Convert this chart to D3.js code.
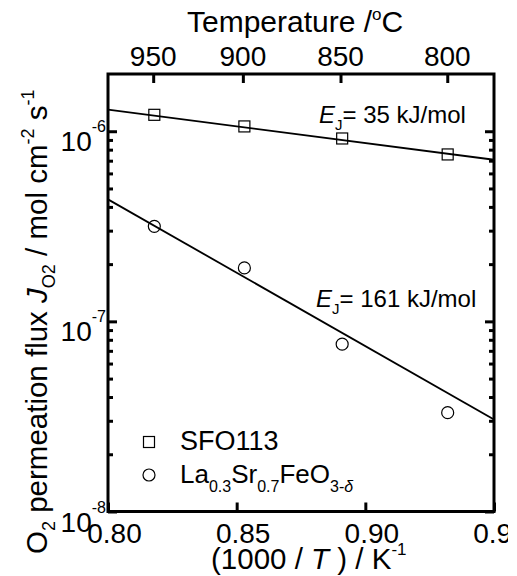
<!DOCTYPE html>
<html>
<head>
<meta charset="utf-8">
<title>O2 permeation flux</title>
<script src="https://d3js.org/d3.v7.min.js"></script>
<style>
body { margin: 0; background: #fff; }
svg { display: block; }
text { font-family: "Liberation Sans", Arial, sans-serif; fill: #000; }
</style>
</head>
<body>
<div id="chart"></div>
<script>
// measured points, x = 1000/T (K^-1), y = J_O2 (mol cm^-2 s^-1)
var invT = [0.818, 0.853, 0.891, 0.932];
var sfoFlux = [1.22e-6, 1.06e-6, 0.916e-6, 0.755e-6];
var lsfFlux = [3.16e-7, 1.91e-7, 7.59e-8, 3.31e-8];

// Arrhenius fit lines (end points)
var fitX = [0.80, 0.95];
var sfoFit = [1.30e-6, 7.08e-7];
var lsfFit = [4.38e-7, 3.05e-8];

// axis ticks
var xTicks = [0.80, 0.85, 0.90, 0.95];
var xTickLabels = ["0.80", "0.85", "0.90", "0.95"];
var tempTicks = [950, 900, 850, 800];
var yMajor = [1e-8, 1e-7, 1e-6];
var yMajorExp = ["-8", "-7", "-6"];

var width = 517, height = 576;
// plot box (window.top is reserved, so prefixed names)
var plotL = 108, plotR = 494, plotT = 74, plotB = 511.5;

var svg = d3.select("#chart").append("svg")
  .attr("width", width)
  .attr("height", height);

svg.append("clipPath").attr("id", "pageclip")
  .append("rect").attr("x", 0).attr("y", 0).attr("width", 508).attr("height", height);

var g = svg.append("g").attr("clip-path", "url(#pageclip)");

var x = d3.scaleLinear().domain([0.80, 0.95]).range([plotL, plotR]);
var y = d3.scaleLog().domain([1e-8, 2e-6]).range([plotB, plotT]);

// minor ticks 2..9 per decade
var yMinor = [];
[-8, -7, -6].forEach(function(e) {
  for (var k = 2; k <= 9; k++) {
    var v = k * Math.pow(10, e);
    if (v < 2e-6) yMinor.push(v);
  }
});

function styleAxis(sel) {
  sel.select(".domain").remove();
  sel.selectAll(".tick line").attr("stroke", "#000").attr("stroke-width", 3);
  sel.selectAll(".tick text").remove();
}

// left / right axes (ticks point inward)
g.append("g").attr("transform", "translate(" + plotL + ",0)")
  .call(d3.axisLeft(y).tickValues(yMajor).tickSize(-9).tickFormat(""))
  .call(styleAxis);
g.append("g").attr("transform", "translate(" + plotL + ",0)")
  .call(d3.axisLeft(y).tickValues(yMinor).tickSize(-5).tickFormat(""))
  .call(styleAxis);
g.append("g").attr("transform", "translate(" + plotR + ",0)")
  .call(d3.axisRight(y).tickValues(yMajor).tickSize(-9).tickFormat(""))
  .call(styleAxis);
g.append("g").attr("transform", "translate(" + plotR + ",0)")
  .call(d3.axisRight(y).tickValues(yMinor).tickSize(-5).tickFormat(""))
  .call(styleAxis);

// bottom axis
g.append("g").attr("transform", "translate(0," + plotB + ")")
  .call(d3.axisBottom(x).tickValues(xTicks).tickSize(-9).tickFormat(""))
  .call(styleAxis);

// top axis: temperature in degC placed at 1000/T
var tempX = tempTicks.map(function(t) { return 1000 / (t + 273.15); });
g.append("g").attr("transform", "translate(0," + plotT + ")")
  .call(d3.axisTop(x).tickValues(tempX).tickSize(-9).tickFormat(""))
  .call(styleAxis);

// frame
g.append("rect")
  .attr("x", plotL).attr("y", plotT)
  .attr("width", plotR - plotL).attr("height", plotB - plotT)
  .attr("fill", "none").attr("stroke", "#000").attr("stroke-width", 3);

// fit lines
var line = d3.line()
  .x(function(d) { return x(d[0]); })
  .y(function(d) { return y(d[1]); });

[sfoFit, lsfFit].forEach(function(f) {
  g.append("path")
    .datum(fitX.map(function(v, i) { return [v, f[i]]; }))
    .attr("d", line)
    .attr("fill", "none").attr("stroke", "#000").attr("stroke-width", 1.8);
});

// markers
var sq = 11;
g.selectAll(".sfo").data(invT.map(function(v, i) { return [v, sfoFlux[i]]; }))
  .enter().append("rect")
  .attr("x", function(d) { return x(d[0]) - sq / 2; })
  .attr("y", function(d) { return y(d[1]) - sq / 2; })
  .attr("width", sq).attr("height", sq)
  .attr("fill", "none").attr("stroke", "#000").attr("stroke-width", 1.2);

g.selectAll(".lsf").data(invT.map(function(v, i) { return [v, lsfFlux[i]]; }))
  .enter().append("circle")
  .attr("cx", function(d) { return x(d[0]); })
  .attr("cy", function(d) { return y(d[1]); })
  .attr("r", 6)
  .attr("fill", "none").attr("stroke", "#000").attr("stroke-width", 1.2);

// x tick labels
g.selectAll(".xl").data(xTicks)
  .enter().append("text")
  .attr("x", function(d) { return x(d) + 6.5; })
  .attr("y", 543)
  .attr("text-anchor", "middle")
  .attr("font-size", 28)
  .text(function(d, i) { return xTickLabels[i]; });

// top tick labels
g.selectAll(".tl").data(tempTicks)
  .enter().append("text")
  .attr("x", function(d, i) { return x(tempX[i]); })
  .attr("y", 66)
  .attr("text-anchor", "middle")
  .attr("font-size", 28)
  .text(function(d) { return d; });

// y tick labels 10^n
yMajor.forEach(function(v, i) {
  var t = g.append("text")
    .attr("x", 106)
    .attr("y", y(v) + 20)
    .attr("text-anchor", "end")
    .attr("font-size", 28);
  t.append("tspan").text("10");
  t.append("tspan").attr("dy", -19).attr("font-size", 16).text(yMajorExp[i]);
});

// top title
var tt = g.append("text").attr("x", 187).attr("y", 32).attr("font-size", 30);
tt.append("tspan").text("Temperature /");
tt.append("tspan").attr("dy", -12).attr("font-size", 17).text("o");
tt.append("tspan").attr("dy", 12).text("C");

// x title
var xt = g.append("text").attr("x", 211).attr("y", 569).attr("font-size", 29.5);
xt.append("tspan").text("(1000 / ");
xt.append("tspan").attr("font-style", "italic").text("T");
xt.append("tspan").text(" ) / K");
xt.append("tspan").attr("dy", -14).attr("font-size", 17).text("-1");

// y title (rotated)
var yt = g.append("text")
  .attr("transform", "translate(47,554) rotate(-90)")
  .attr("font-size", 29.5);
yt.append("tspan").text("O");
yt.append("tspan").attr("dy", 8).attr("font-size", 18).text("2");
yt.append("tspan").attr("dy", -8).text(" permeation flux ");
yt.append("tspan").attr("font-style", "italic").text("J");
yt.append("tspan").attr("dy", 8).attr("font-size", 18).text("O2");
yt.append("tspan").attr("dy", -8).text("  / mol cm");
yt.append("tspan").attr("dy", -13).attr("font-size", 18).text("-2");
yt.append("tspan").attr("dy", 13).text(" s");
yt.append("tspan").attr("dy", -13).attr("font-size", 18).text("-1");

// activation energy notes
function eNote(xp, yp, txt) {
  var t = g.append("text").attr("x", xp).attr("y", yp).attr("font-size", 24);
  t.append("tspan").attr("font-style", "italic").text("E");
  t.append("tspan").attr("dy", 7).attr("font-size", 15).text("J");
  t.append("tspan").attr("dy", -7).text(txt);
}
eNote(319, 123, "= 35 kJ/mol");
eNote(316, 307, "= 161 kJ/mol");

// legend
g.append("rect").attr("x", 143.5).attr("y", 436.5).attr("width", sq).attr("height", sq)
  .attr("fill", "none").attr("stroke", "#000").attr("stroke-width", 1.2);
g.append("text").attr("x", 180).attr("y", 450).attr("font-size", 27).text("SFO113");

g.append("circle").attr("cx", 149).attr("cy", 475).attr("r", 6)
  .attr("fill", "none").attr("stroke", "#000").attr("stroke-width", 1.2);
var lt = g.append("text").attr("x", 180).attr("y", 483).attr("font-size", 26);
lt.append("tspan").text("La");
lt.append("tspan").attr("dy", 9).attr("font-size", 16).text("0.3");
lt.append("tspan").attr("dy", -9).text("Sr");
lt.append("tspan").attr("dy", 9).attr("font-size", 16).text("0.7");
lt.append("tspan").attr("dy", -9).text("FeO");
lt.append("tspan").attr("dy", 9).attr("font-size", 16).text("3-");
lt.append("tspan").attr("font-size", 16).attr("font-style", "italic").text("δ");
</script>
</body>
</html>
